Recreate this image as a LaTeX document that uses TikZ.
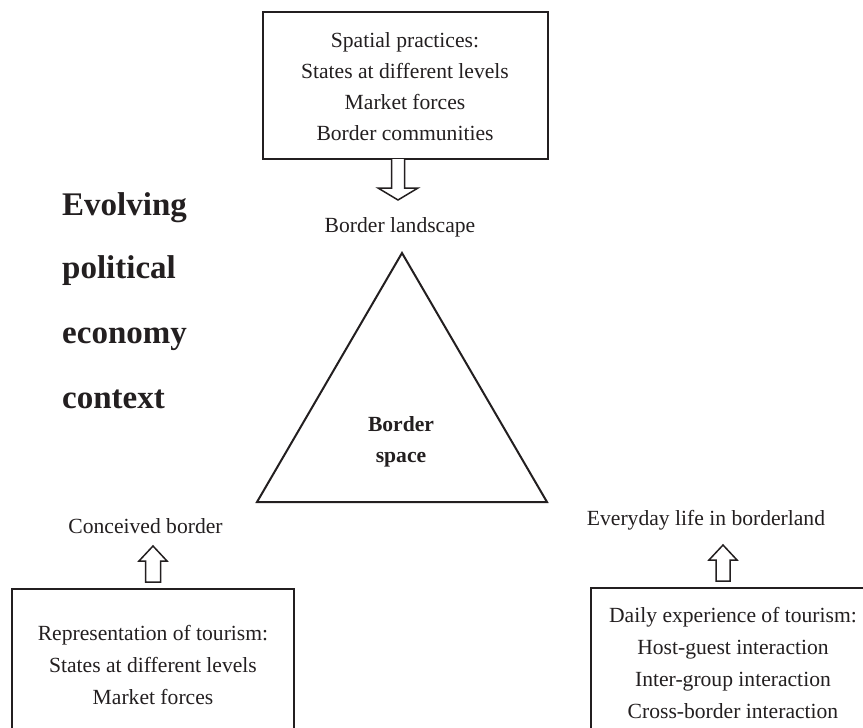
\documentclass[tikz,border=0pt]{standalone}
\usepackage{fontspec}
\setmainfont{Liberation Serif}
\usetikzlibrary{calc}
\definecolor{ink}{HTML}{231F20}
\begin{document}
\begin{tikzpicture}[x=1pt,y=-1pt,
  txt/.style={text=ink, font=\fontsize{21.6}{32}\selectfont, align=center, inner sep=0pt},
  boldtxt/.style={text=ink, font=\fontsize{21.6}{31}\selectfont\bfseries, align=center, inner sep=0pt},
  bigbold/.style={text=ink, font=\fontsize{33}{40}\selectfont\bfseries, inner sep=0pt, anchor=base west},
  boxline/.style={draw=ink, line width=2pt, inner sep=0pt},
  blockarrow/.style={draw=ink, line width=1.5pt, fill=white, line join=miter}]
\clip (0,0) rectangle (863,728);
\fill[white] (0,0) rectangle (863,728);

% top box
\node[boxline, minimum width=285, minimum height=147] (spbox) at (405,85.5) {};
\node[txt, font=\fontsize{21.6}{31}\selectfont] (sp) at (405,87)
  {Spatial practices:\\States at different levels\\Market forces\\Border communities};

% top arrow
\coordinate (ta) at (398,159);
\draw[blockarrow] (ta) ++(-6.5,0) -- ++(0,29) -- ++(-13.5,0) -- ++(20,12) -- ++(20,-12) -- ++(-13.5,0) -- ++(0,-29);

\node[txt] (landscape) at (400,227) {Border landscape};

% triangle
\coordinate (apex) at (402,253);
\coordinate (bl) at (257,502);
\coordinate (br) at (547,502);
\draw[draw=ink, line width=2pt, line join=miter] (apex) -- (bl) -- (br) -- cycle;
\node[boldtxt] (space) at (401,442) {Border\\space};

% left context text
\node[bigbold] (ev1) at (62,215) {Evolving};
\node[bigbold] (ev2) at (62,278) {political};
\node[bigbold] (ev3) at (62,343) {economy};
\node[bigbold] (ev4) at (62,408) {context};

% bottom labels
\node[txt] (conceived) at (145.5,526) {Conceived border};
\node[txt] (everyday) at (706,520) {Everyday life in borderland};

% bottom-left box
\node[boxline, minimum width=282, minimum height=200, anchor=north] (repbox) at (153,588) {};
\node[txt] (rep) at (153,665)
  {Representation of tourism:\\States at different levels\\Market forces};

% bottom-right box
\node[boxline, minimum width=284, minimum height=200, anchor=north] (dailybox) at (733,587) {};
\node[txt] (daily) at (733,663)
  {Daily experience of tourism:\\Host-guest interaction\\Inter-group interaction\\Cross-border interaction};

% bottom arrows
\coordinate (la) at (153,582);
\draw[blockarrow] (la) ++(-7.5,0) -- ++(0,-21) -- ++(-6.5,0) -- ++(14,-15) -- ++(14,15) -- ++(-6.5,0) -- ++(0,21) -- cycle;
\coordinate (ra) at (723,581);
\draw[blockarrow] (ra) ++(-7,0) -- ++(0,-21) -- ++(-7,0) -- ++(14,-15) -- ++(14,15) -- ++(-7,0) -- ++(0,21) -- cycle;
\end{tikzpicture}
\end{document}
